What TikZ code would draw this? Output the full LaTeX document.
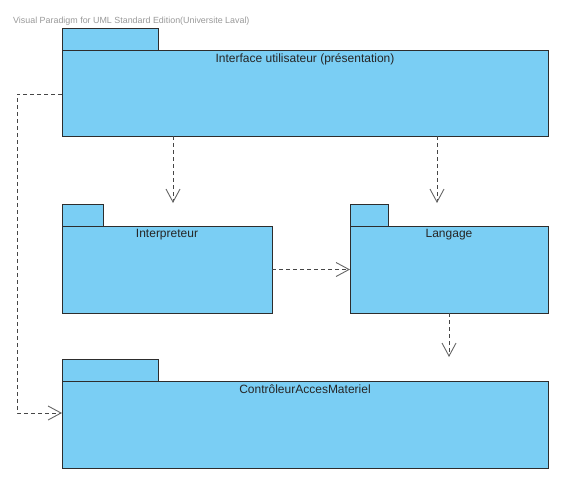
\documentclass[tikz,border=0pt]{standalone}
\usepackage{fontspec}
\setmainfont{Liberation Sans}
\usetikzlibrary{arrows.meta,positioning}
\definecolor{pkgblue}{RGB}{122,206,244}
\definecolor{pkgline}{RGB}{45,45,45}
\definecolor{depline}{RGB}{70,70,70}
\tikzset{
  pkgbody/.style={draw=pkgline,fill=pkgblue,line width=0.9pt,anchor=north west,outer sep=0pt,inner sep=0pt},
  pkgtab/.style={pkgbody,anchor=south west,minimum height=22pt},
  pkgname/.style={font=\fontsize{12}{14}\selectfont,text=black!85,inner sep=0pt},
  dep/.style={draw=depline,line width=0.8pt,dash pattern=on 4pt off 3pt,
    -{Straight Barb[length=13pt,width=14pt,line width=0.9pt,color=black!60]}}
}
\begin{document}
\begin{tikzpicture}[x=1pt,y=-1pt]
  \useasboundingbox (0,0) rectangle (562,477);
  \node[anchor=west,inner sep=0pt,text=black!40,font=\fontsize{8.9}{10}\selectfont] (vp) at (13,21)
    {Visual Paradigm for UML Standard Edition(Universite Laval)};

  % packages
  \node[pkgbody,minimum width=486pt,minimum height=86pt] (ui) at (62,50) {};
  \node[pkgtab,minimum width=96pt] (uitab) at (ui.north west) {};
  \node[pkgname,below=3.5pt of ui.north] (uiname) {Interface utilisateur (présentation)};

  \node[pkgbody,minimum width=210pt,minimum height=87pt] (interp) at (62,226) {};
  \node[pkgtab,minimum width=41pt] (interptab) at (interp.north west) {};
  \node[pkgname,below=3.5pt of interp.north] (interpname) {Interpreteur};

  \node[pkgbody,minimum width=198pt,minimum height=87pt] (lang) at (350,226) {};
  \node[pkgtab,minimum width=38pt] (langtab) at (lang.north west) {};
  \node[pkgname,below=3.5pt of lang.north] (langname) {Langage};

  \node[pkgbody,minimum width=486pt,minimum height=87pt] (ctrl) at (62,381) {};
  \node[pkgtab,minimum width=96pt] (ctrltab) at (ctrl.north west) {};
  \node[pkgname,below=3.5pt of ctrl.north] (ctrlname) {ContrôleurAccesMateriel};

  % dependencies
  \coordinate (d1) at (173,203);
  \coordinate (d2) at (437,203);
  \coordinate (d3) at (449,357);
  \coordinate (l1) at (17,94);
  \coordinate (l2) at (17,413);
  \draw[dep] (ui.south -| d1) -- (d1);
  \draw[dep] (ui.south -| d2) -- (d2);
  \draw[dep] (interp.east) -- (lang.west);
  \draw[dep] (lang.south) -- (d3);
  \draw[dep] (ui.west |- l1) -- (l1) -- (l2) -- (ctrl.west |- l2);
\end{tikzpicture}
\end{document}
